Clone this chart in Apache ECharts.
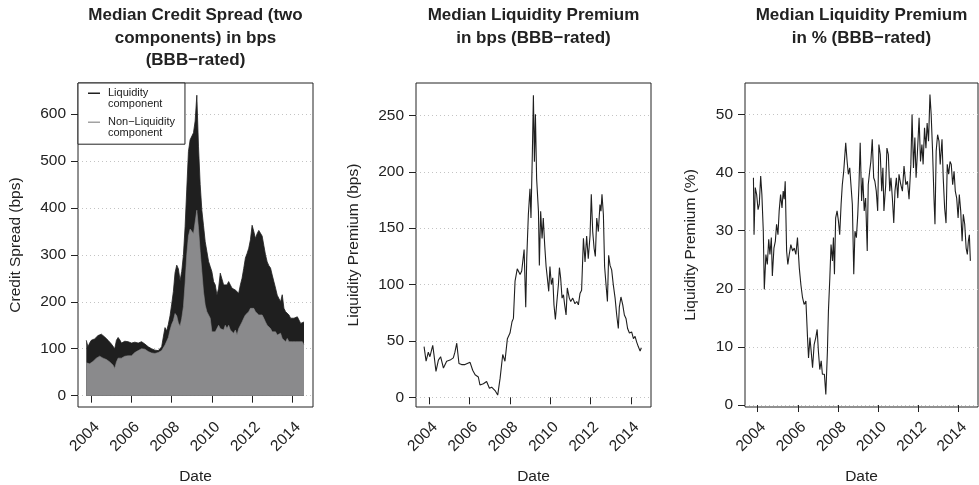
<!DOCTYPE html>
<html>
<head>
<meta charset="utf-8">
<script src="https://cdn.jsdelivr.net/npm/echarts@6/dist/echarts.min.js"></script>
<style>
html,body{margin:0;padding:0;background:#fff;}
#chart{width:979px;height:485px;}
</style>
</head>
<body>
<div id="chart"></div>
<script>
// ---------- DATA ----------
// Panel 1: monthly medians (bps), first observation Oct 2003
const spreadStartYear = 2003.75;
const nonLiquidity = [
  70,67,68,70,73,77,80,82,84,83, 80,80,77,74,72,70,65,58,72,80,
  82,80,82,84,83,85,84,85,86,92, 95,96,98,100,100,99,96,94,92,91,
  90,90,91,92,94,96,100,108,112,124, 140,152,160,175,170,155,148,165,190,240,
  300,340,355,
  350,345,370,395,356,307,264,221,193,179,
  172,165,136,133,136,140,150,143,147,140,
  150,143,150,140,143,133,140,129,143,150,
  157,165,172,176,179,186,183,186,179,183,
  172,168,172,165,157,150,147,143,136,133,
  136,129,126,133,122,118,115,122,115,111,
  115,118,115,111,115,111,115,108
];
const liquidity = [
  48,37,44,48,43,44,44,46,46,48, 48,45,44,44,42,40,41,42,46,44,
  37,32,32,32,30,30,30,27,29,22, 21,16,16,15,12,11,10,10,9,9,
  8,7,6,4,4,8,25,37,26,28, 30,43,62,87,108,115,97,100,110,120,
  140,180,190,
  198,215,215,245,174,143,131,141,135,128,
  114,110,128,110,100,74,79,118,110,96,
  89,93,93,96,86,99,85,100,75,86,
  93,106,121,127,135,146,180,164,156,162,
  180,187,168,155,143,135,130,129,121,110,
  93,85,81,67,93,68,64,57,57,54,
  53,47,46,57,46,43,35,49
];

// Panel 2: liquidity premium (bps)
const lpBpsDates = [
  2003.74,2003.84,2003.95,2004.03,2004.17,2004.23,2004.33,2004.45,2004.56,2004.70,
  2004.86,2005.03,2005.19,2005.27,2005.36,2005.47,2005.60,2005.77,2006.02,2006.15,
  2006.27,2006.43,2006.51,2006.68,2006.84,2006.98,2007.09,2007.26,2007.39,2007.51,
  2007.64,2007.75,2007.87,2008.00,2008.10,2008.17,2008.25,2008.36,2008.50,2008.58,
  2008.70,2008.78,2008.83,2008.91,2008.99,2009.04,2009.11,2009.16,2009.21,2009.26,
  2009.32,2009.41,2009.455,2009.52,2009.59,2009.65,2009.72,2009.79,2009.85,2009.92,
  2009.98,2010.05,2010.12,2010.18,2010.25,2010.31,2010.40,2010.45,2010.51,2010.58,
  2010.65,2010.71,2010.78,2010.84,2010.94,2011.01,2011.11,2011.22,2011.31,2011.39,
  2011.47,2011.55,2011.64,2011.72,2011.80,2011.88,2011.97,2012.03,2012.10,2012.17,
  2012.23,2012.30,2012.38,2012.46,2012.51,2012.56,2012.63,2012.69,2012.76,2012.83,
  2012.89,2012.96,2013.04,2013.12,2013.21,2013.29,2013.37,2013.42,2013.50,2013.59,
  2013.67,2013.75,2013.83,2013.92,2014.03,2014.12,2014.20,2014.28,2014.36,2014.45,
  2014.51
];
const lpBps = [
  45,32,40,36,46,38,23,33,36,26,
  32,33,35,40,48,30,29,29,31,24,
  20,18,11,12,14,8,9,6,2,17,
  38,32,52,57,67,70,103,114,109,112,
  131,80,123,162,185,159,218,268,209,251,
  194,165,117,165,141,159,135,116,106,94,
  116,100,106,82,69,82,100,115,106,88,
  91,82,73,97,88,85,88,83,85,82,
  92,95,141,120,143,123,144,180,147,132,
  125,159,147,171,165,180,162,116,100,85,
  126,117,113,100,88,73,61,80,89,82,
  73,70,61,57,58,52,54,49,45,41,
  44
];

// Panel 3: liquidity premium (% of spread)
const lpPctDates = [
  2003.79,2003.82,2003.88,2003.95,2004.02,2004.08,2004.15,2004.21,2004.28,2004.33,
  2004.41,2004.48,2004.55,2004.61,2004.68,2004.73,2004.81,2004.88,2004.94,2005.01,
  2005.07,2005.14,2005.21,2005.27,2005.32,2005.37,2005.44,2005.50,2005.57,2005.65,
  2005.74,2005.82,2005.90,2005.98,2006.07,2006.15,2006.23,2006.31,2006.40,2006.48,
  2006.53,2006.60,2006.66,2006.73,2006.81,2006.89,2006.96,2007.02,2007.09,2007.16,
  2007.22,2007.32,2007.39,2007.47,2007.52,2007.59,2007.65,2007.72,2007.77,2007.82,
  2007.88,2007.95,2008.02,2008.08,2008.15,2008.21,2008.28,2008.38,2008.45,2008.51,
  2008.58,2008.64,2008.71,2008.78,2008.84,2008.91,2008.98,2009.04,2009.10,2009.17,
  2009.23,2009.30,2009.37,2009.45,2009.50,2009.57,2009.63,2009.70,2009.77,2009.83,
  2009.90,2009.97,2010.03,2010.10,2010.17,2010.23,2010.28,2010.37,2010.43,2010.50,
  2010.57,2010.63,2010.70,2010.77,2010.83,2010.90,2010.97,2011.03,2011.12,2011.20,
  2011.28,2011.37,2011.45,2011.53,2011.62,2011.68,2011.75,2011.82,2011.88,2011.95,
  2012.03,2012.10,2012.17,2012.23,2012.30,2012.37,2012.43,2012.50,2012.57,2012.63,
  2012.70,2012.77,2012.82,2012.88,2012.95,2013.02,2013.08,2013.17,2013.23,2013.30,
  2013.37,2013.43,2013.50,2013.57,2013.63,2013.70,2013.77,2013.83,2013.90,2013.97,
  2014.03,2014.10,2014.17,2014.23,2014.30,2014.37,2014.43,2014.48,2014.53,2014.58
];
const lpPct = [
  39.1,29.3,37.4,36.2,33.6,34.5,39.4,36.2,29.9,19.9,
  25.9,24.2,28.5,25.9,28.8,22.2,27.0,28.2,31.1,29.3,
  33.4,36.2,33.9,36.8,35.4,38.5,26.5,24.2,25.9,27.6,
  26.5,27.0,25.9,28.8,23.6,20.7,18.5,17.3,17.9,11.6,
  8.1,11.6,9.3,6.4,10.4,11.6,13.0,9.3,6.1,7.6,
  5.3,5.3,1.8,9.3,16.2,21.9,27.6,24.8,28.8,22.5,
  32.2,33.4,31.6,29.3,34.5,37.9,40.2,45.1,41.9,39.7,
  40.8,37.9,34.5,22.5,29.9,28.8,32.8,37.9,45.1,35.1,
  39.1,33.4,35.6,26.5,37.9,40.2,41.9,45.7,39.1,38.5,
  36.8,33.4,44.8,43.1,36.8,40.8,33.4,37.9,44.2,43.1,
  36.8,39.1,35.6,31.3,36.8,39.1,35.6,39.7,37.9,36.8,
  41.1,37.9,38.5,35.4,41.4,50.0,40.8,46.0,39.1,43.7,
  49.4,41.9,44.8,41.4,47.7,44.2,48.5,45.4,53.4,50.0,
  43.7,35.6,31.1,43.7,46.5,45.4,41.4,45.7,39.1,33.9,
  31.3,41.4,39.7,41.9,41.4,37.9,40.2,36.8,35.6,32.2,
  36.2,33.4,28.2,32.8,31.1,27.0,25.9,28.2,29.3,24.8
];

// Tick labels
const yearTicks = [2004, 2006, 2008, 2010, 2012, 2014];
const spreadTicks = [0, 100, 200, 300, 400, 500, 600];
const lpBpsTicks = [0, 50, 100, 150, 200, 250];
const lpPctTicks = [0, 10, 20, 30, 40, 50];

const titles = [
  ['Median Credit Spread (two', 'components) in bps', '(BBB\u2212rated)'],
  ['Median Liquidity Premium', 'in bps (BBB\u2212rated)'],
  ['Median Liquidity Premium', 'in % (BBB\u2212rated)']
];
const yNames = ['Credit Spread (bps)', 'Liquidity Premium (bps)', 'Liquidity Premium (%)'];
const legendNames = ['Liquidity\ncomponent', 'Non\u2212Liquidity\ncomponent'];

// ---------- BUILD ----------
const spreadDates = nonLiquidity.map((_, i) => spreadStartYear + i / 12);
const totalSpread = nonLiquidity.map((v, i) => v + liquidity[i]);
const zip = (xs, ys) => xs.map((x, i) => [x, ys[i]]);

const FONT = '"Liberation Sans", Arial, Helvetica, sans-serif';
const INK = '#222222';
const BLACK = '#1f1f1f';
const GREY = '#8a8a8c';

const panels = [
  {left: 78, width: 235, xMin: 2003.338, xMax: 2015.03, yMin: -24.1, yMax: 666, ticks: spreadTicks, nameGap: 54},
  {left: 416, width: 235, xMin: 2003.34, xMax: 2014.99, yMin: -8.6, yMax: 278.8, ticks: lpBpsTicks, nameGap: 54},
  {left: 745, width: 233, xMin: 2003.37, xMax: 2014.96, yMin: -0.34, yMax: 55.4, ticks: lpPctTicks, nameGap: 46}
];
const TOP = 83, HEIGHT = 324;

const grid = panels.map(p => ({
  left: p.left, top: TOP, width: p.width, height: HEIGHT,
  show: true, borderColor: INK, borderWidth: 1, backgroundColor: 'transparent',
  containLabel: false, outerBoundsMode: 'none'
}));

const xAxis = panels.map((p, i) => ({
  type: 'value', gridIndex: i, min: p.xMin, max: p.xMax,
  name: 'Date', nameLocation: 'middle', nameGap: 62,
  nameTextStyle: {fontFamily: FONT, fontSize: 15.5, color: INK},
  axisLine: {show: false},
  axisTick: {show: true, customValues: yearTicks, length: 7, lineStyle: {color: INK, width: 1}},
  axisLabel: {show: true, customValues: yearTicks, rotate: 45, margin: 12,
    fontFamily: FONT, fontSize: 15.5, color: INK, align: 'right', verticalAlign: 'top',
    formatter: v => String(v)},
  splitLine: {show: false}
}));

const yAxis = panels.map((p, i) => ({
  type: 'value', gridIndex: i, min: p.yMin, max: p.yMax,
  name: yNames[i], nameLocation: 'middle', nameGap: p.nameGap, nameRotate: 90,
  nameTextStyle: {fontFamily: FONT, fontSize: 15.5, color: INK},
  axisLine: {show: false},
  axisTick: {show: true, customValues: p.ticks, length: 7, lineStyle: {color: INK, width: 1}},
  axisLabel: {show: true, customValues: p.ticks, margin: 12,
    fontFamily: FONT, fontSize: 15.5, color: INK, formatter: v => String(v)},
  splitLine: {show: true, lineStyle: {color: '#c4c4c4', width: 1, type: [1, 3]}}
}));

const title = panels.map((p, i) => ({
  text: titles[i].join('\n'),
  left: p.left + p.width / 2, top: 4.5, textAlign: 'center', padding: 0,
  textStyle: {fontFamily: FONT, fontSize: 17, fontWeight: 'bold', color: INK, lineHeight: 22.5}
}));

// legend icon: short line at the top of a 15x12 box
const ICON = 'path://M0,0H12V1.4H0Z M14.99,12H15V12.01H14.99Z';

const option = {
  animation: false,
  backgroundColor: '#ffffff',
  title,
  grid, xAxis, yAxis,
  legend: {
    left: 78, top: 83, orient: 'vertical', padding: [4, 10, 5, 10],
    itemGap: 5.8, itemWidth: 15, itemHeight: 12,
    borderColor: INK, borderWidth: 1, backgroundColor: '#ffffff', borderRadius: 0,
    selectedMode: false, z: 10,
    textStyle: {fontFamily: FONT, fontSize: 11, lineHeight: 11.6, color: INK},
    itemStyle: {borderWidth: 0},
    data: [
      {name: legendNames[0], icon: ICON, itemStyle: {color: BLACK, borderWidth: 0}},
      {name: legendNames[1], icon: ICON, itemStyle: {color: '#a2a2a2', borderWidth: 0}}
    ]
  },
  series: [
    {
      name: legendNames[0], type: 'line', xAxisIndex: 0, yAxisIndex: 0,
      data: zip(spreadDates, totalSpread), symbol: 'none', silent: true,
      itemStyle: {color: BLACK}, lineStyle: {color: BLACK, width: 0.8},
      areaStyle: {color: BLACK, opacity: 1}
    },
    {
      name: legendNames[1], type: 'line', xAxisIndex: 0, yAxisIndex: 0,
      data: zip(spreadDates, nonLiquidity), symbol: 'none', silent: true,
      itemStyle: {color: GREY}, lineStyle: {color: GREY, width: 0.6},
      areaStyle: {color: GREY, opacity: 1}
    },
    {
      name: 'lpBps', type: 'line', xAxisIndex: 1, yAxisIndex: 1,
      data: zip(lpBpsDates, lpBps), symbol: 'none', silent: true,
      lineStyle: {color: BLACK, width: 1.1}
    },
    {
      name: 'lpPct', type: 'line', xAxisIndex: 2, yAxisIndex: 2,
      data: zip(lpPctDates, lpPct), symbol: 'none', silent: true,
      lineStyle: {color: BLACK, width: 1.1}
    }
  ]
};

const chart = echarts.init(document.getElementById('chart'), null, {renderer: 'canvas'});
chart.setOption(option);
</script>
</body>
</html>
